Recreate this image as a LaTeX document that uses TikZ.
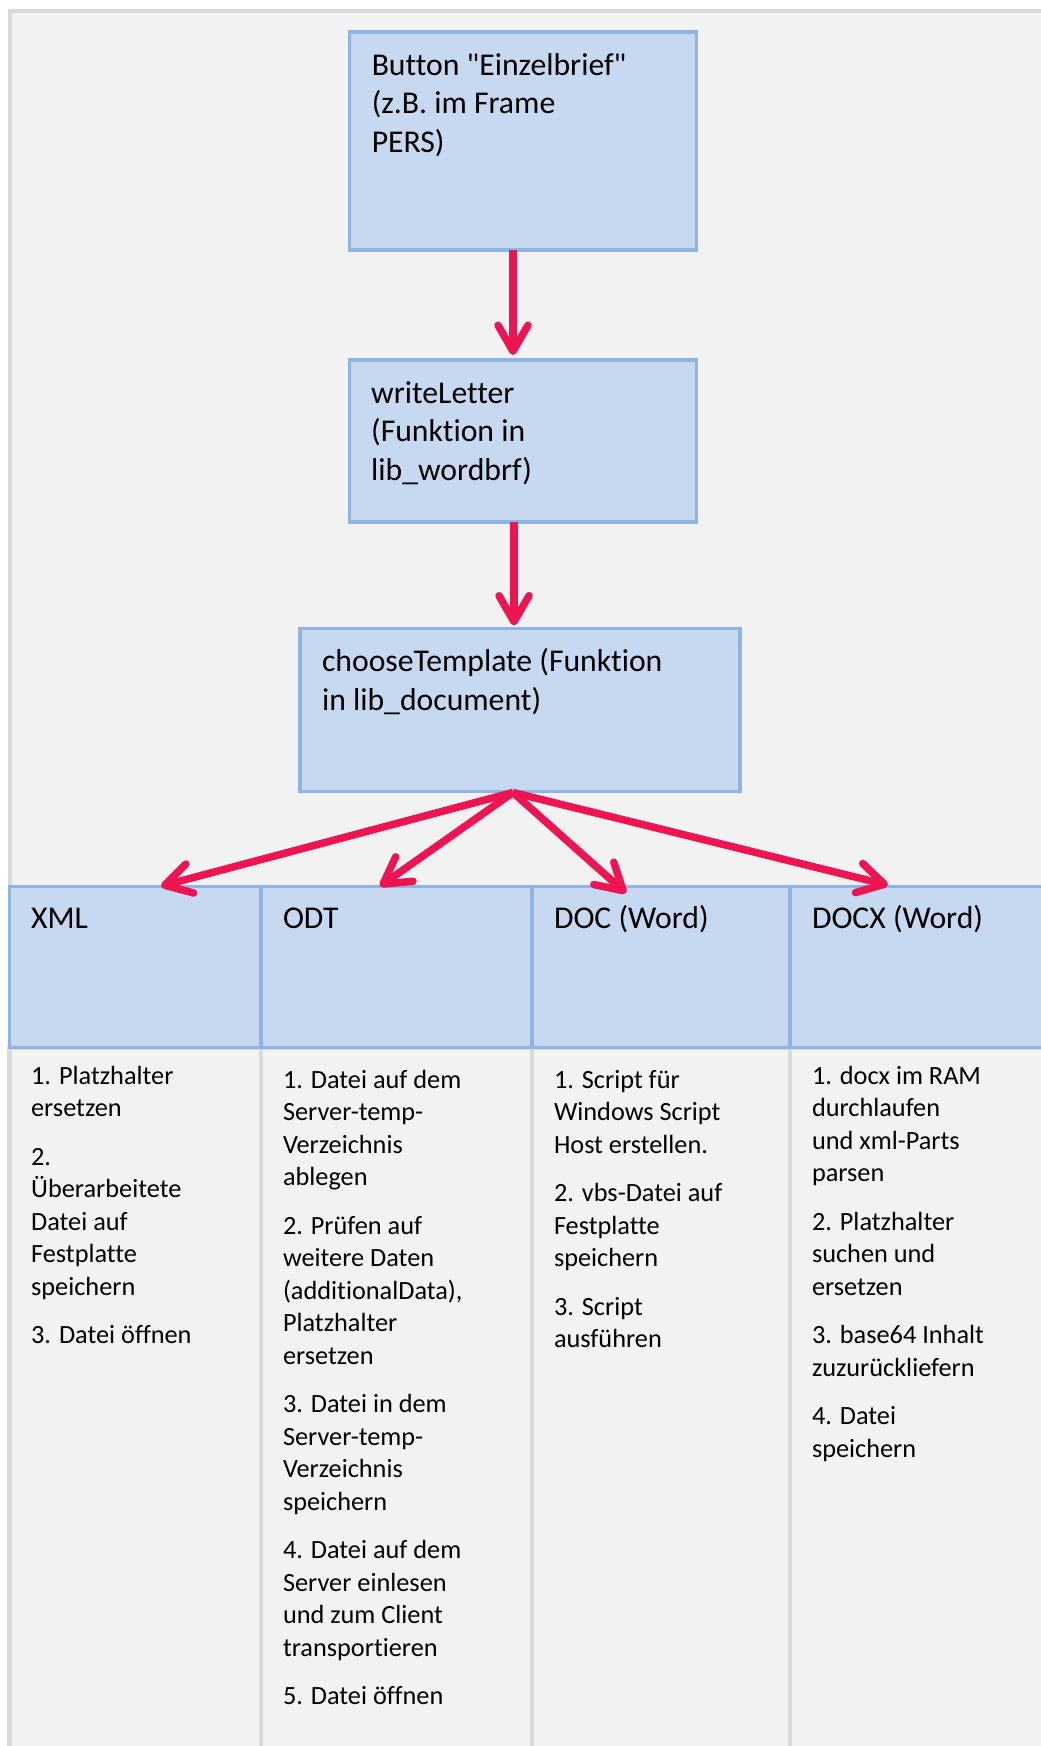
\documentclass[tikz,border=0pt]{standalone}
\usepackage{fontspec}
\setmainfont{Carlito}[Ligatures={TeXOff,NoCommon}]
\usetikzlibrary{shapes, arrows.meta, backgrounds}

\definecolor{blockfill}{HTML}{C6D9F1}
\definecolor{blockline}{HTML}{8EB4E3}
\definecolor{arrowred}{HTML}{EC1552}
\definecolor{panelgray}{HTML}{F2F2F2}
\definecolor{rulegray}{HTML}{D9D9D9}

\newcommand{\boxfont}{\fontsize{31.7}{38.5}\selectfont}
\newcommand{\listfont}{\fontsize{26.3}{32.5}\selectfont}
% width, height, first baseline, text
\newcommand{\blocktext}[4]{\parbox[c][#2][t]{#1}{\raggedright\leftskip=22pt\rule{0pt}{#3}#4}}

\tikzstyle{block} = [rectangle, draw=blockline, fill=blockfill, line width=3.2pt, inner sep=0pt, outer sep=0pt, font=\boxfont]
\tikzstyle{column} = [rectangle, draw=rulegray, line width=4pt, inner sep=0pt, outer sep=0pt, font=\listfont]
\tikzstyle{arrow} = [draw=arrowred, line width=7.5pt, -{Straight Barb[length=26pt, width=30pt, round]}]

\begin{document}
\begin{tikzpicture}[x=1pt, y=1pt, node distance=300pt]
\useasboundingbox (0,0) rectangle (1041,-1746);
\clip (0,0) rectangle (1041,-1746);

\begin{scope}[on background layer]
\draw [rulegray, fill=panelgray, line width=4.5pt] (10,-10.8) rectangle (1080,-1800);
\end{scope}

% Nodes
\node (button) at (523,-141) [block] {\blocktext{346.5pt}{218pt}{43pt}{Button "Einzelbrief"\\ (z.B. im Frame\\ PERS)}};
\node (write) [below of=button, block] {\blocktext{347.7pt}{162pt}{43pt}{writeLetter\\ (Funktion in\\ lib\_wordbrf)}};
\node (choose) [below of=write, block, xshift=-3pt, yshift=31pt] {\blocktext{440pt}{163pt}{43pt}{chooseTemplate (Funktion\\ in lib\_document)}};

\node (xml) [below of=choose, block, xshift=-385pt, yshift=43pt] {\blocktext{251.7pt}{161.7pt}{42pt}{XML}};
\node (odt) [right of=xml, block, xshift=-38.5pt] {\blocktext{271pt}{161.7pt}{42pt}{ODT}};
\node (doc) [right of=odt, block, xshift=-35.5pt] {\blocktext{258pt}{161.7pt}{42pt}{DOC (Word)}};
\node (docx) [right of=doc, block, xshift=-36pt] {\blocktext{270pt}{161.7pt}{42pt}{DOCX (Word)}};

\begin{scope}[on background layer]
\node (xmlsteps) [below of=xml, column, yshift=-150.7pt] {\blocktext{251.7pt}{740pt}{36.3pt}{1. Platzhalter\\ ersetzen\\[16pt] 2.\\ Überarbeitete\\ Datei auf\\ Festplatte\\ speichern\\[16pt] 3. Datei öffnen}};
\node (odtsteps) [below of=odt, column, yshift=-150.7pt] {\blocktext{271pt}{740pt}{40.3pt}{1. Datei auf dem\\ Server-temp-\\ Verzeichnis\\ ablegen\\[16pt] 2. Prüfen auf\\ weitere Daten\\ (additionalData),\\ Platzhalter\\ ersetzen\\[16pt] 3. Datei in dem\\ Server-temp-\\ Verzeichnis\\ speichern\\[16pt] 4. Datei auf dem\\ Server einlesen\\ und zum Client\\ transportieren\\[16pt] 5. Datei öffnen}};
\node (docsteps) [below of=doc, column, yshift=-150.7pt] {\blocktext{258pt}{740pt}{40.3pt}{1. Script für\\ Windows Script\\ Host erstellen.\\[16pt] 2. vbs-Datei auf\\ Festplatte\\ speichern\\[16pt] 3. Script\\ ausführen}};
\node (docxsteps) [below of=docx, column, yshift=-150.7pt] {\blocktext{270pt}{740pt}{36.3pt}{1. docx im RAM\\ durchlaufen\\ und xml-Parts\\ parsen\\[16pt] 2. Platzhalter\\ suchen und\\ ersetzen\\[16pt] 3. base64 Inhalt\\ zuzurückliefern\\[16pt] 4. Datei\\ speichern}};
\end{scope}

% Arrows
\draw [arrow] ([xshift=-10pt]button.south) -- ([xshift=-10pt, yshift=5pt]write.north);
\draw [arrow] ([xshift=-9pt]write.south) -- ([xshift=-6pt, yshift=3pt]choose.north);
\draw [arrow] ([xshift=-7pt, yshift=-1pt]choose.south) -- ([xshift=26pt]xml.north);
\draw [arrow] ([xshift=-7pt, yshift=-1pt]choose.south) -- ([xshift=-16.5pt]odt.north);
\draw [arrow] ([xshift=-7pt, yshift=-1pt]choose.south) -- ([xshift=-35pt, yshift=-7pt]doc.north);
\draw [arrow] ([xshift=-7pt, yshift=-1pt]choose.south) -- ([xshift=-37pt, yshift=1pt]docx.north);

\end{tikzpicture}
\end{document}
